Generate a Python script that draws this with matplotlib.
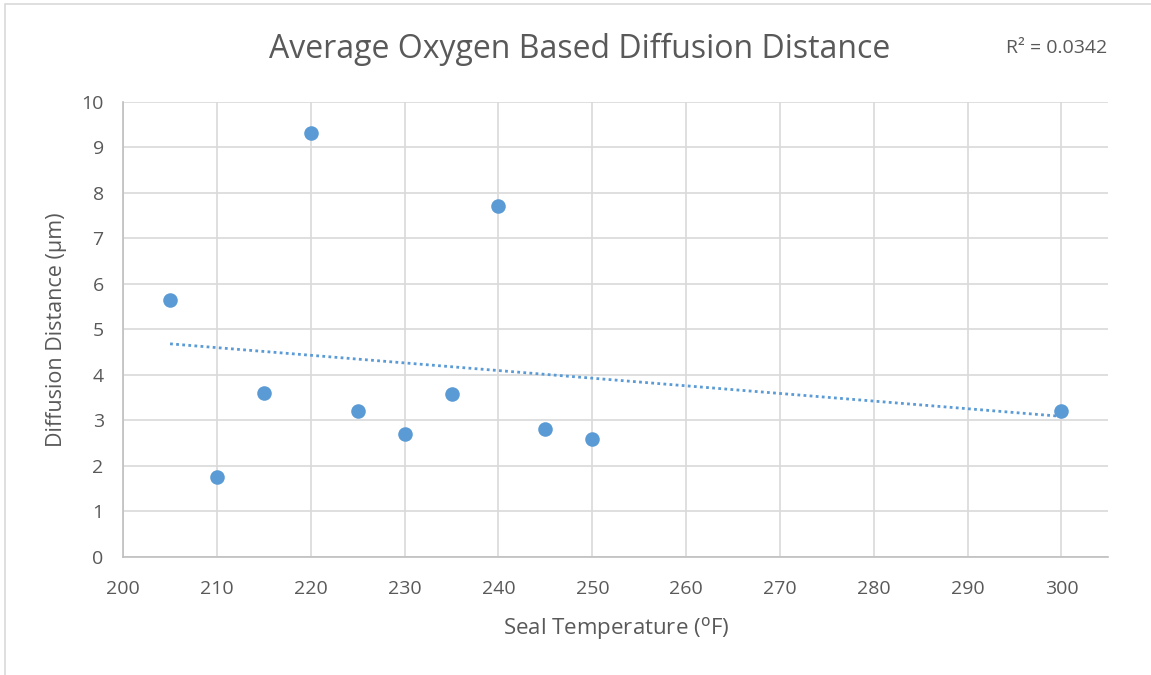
import matplotlib.pyplot as plt
import numpy as np
from matplotlib.patches import Rectangle

# Seal temperature (F) vs average oxygen based diffusion distance (um)
seal_temp = [205, 210, 215, 220, 225, 230, 235, 240, 245, 250, 300]
diffusion = [5.65, 1.75, 3.60, 9.32, 3.20, 2.70, 3.58, 7.72, 2.82, 2.60, 3.20]
x_ticks = [200, 210, 220, 230, 240, 250, 260, 270, 280, 290, 300]
y_ticks = [0, 1, 2, 3, 4, 5, 6, 7, 8, 9, 10]
r2_label = "R\u00b2 = 0.0342"

blue = "#5b9bd5"
text_gray = "#595959"
grid_gray = "#d9d9d9"

plt.rcParams["font.family"] = ["Open Sans", "DejaVu Sans"]

fig = plt.figure(figsize=(11.51, 6.75), dpi=100)
ax = fig.add_axes([0.107, 0.175, 0.856, 0.674])

ax.scatter(seal_temp, diffusion, s=110, color=blue, zorder=3, linewidths=0)

# linear trendline
coef = np.polyfit(seal_temp, diffusion, 1)
tx = np.array([min(seal_temp), max(seal_temp)])
ax.plot(tx, np.polyval(coef, tx), color=blue, lw=2, ls=(0, (1, 1.2)), zorder=2)

ax.set_xlim(200, 305)
ax.set_ylim(0, 10)
ax.set_xticks(x_ticks)
ax.set_yticks(y_ticks)
ax.grid(True, color=grid_gray, lw=1.2)
ax.set_axisbelow(True)
for side in ["top", "right"]:
    ax.spines[side].set_visible(False)
for side in ["left", "bottom"]:
    ax.spines[side].set_color("#bfbfbf")
    ax.spines[side].set_linewidth(1.2)
ax.tick_params(length=0, labelsize=14, colors=text_gray)
ax.tick_params(axis="x", pad=17)
ax.tick_params(axis="y", pad=14)

ax.set_xlabel("Seal Temperature ($^{\\mathrm{o}}$F)", fontsize=16, color=text_gray, labelpad=12)
ax.set_ylabel("Diffusion Distance (\u00b5m)", fontsize=15.5, color=text_gray, labelpad=10)

fig.text(0.504, 0.927, "Average Oxygen Based Diffusion Distance", fontsize=23,
         color=text_gray, ha="center", va="center")
fig.text(0.918, 0.929, r2_label, fontsize=14, color=text_gray, ha="center", va="center")

fig.patches.append(Rectangle((0.004, -0.01), 1.2, 1.004, transform=fig.transFigure,
                             fill=False, edgecolor="#d9d9d9", lw=1.2))

fig.savefig("out.png", dpi=100, facecolor="white")
